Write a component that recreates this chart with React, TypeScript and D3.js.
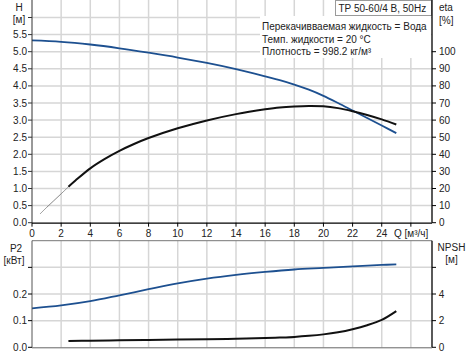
import React from "react";
import * as d3 from "d3";

const qH = [0, 2, 4, 6, 8, 10, 12, 14, 15, 16, 17, 18, 19, 20, 21, 22, 23, 24, 25];
const hVals = [5.33, 5.29, 5.21, 5.1, 4.97, 4.83, 4.67, 4.49, 4.39, 4.28, 4.17, 4.04, 3.89, 3.71, 3.5, 3.28, 3.06, 2.84, 2.62];

const qEtaThin = [0.55, 1, 1.5, 2, 2.5];
const etaThin = [5.1, 8.9, 12.9, 16.9, 21.0];
const qEta = [2.5, 3, 4, 5, 6, 7, 8, 10, 12, 14, 16, 17, 18, 19, 20, 21, 22, 23, 24, 25];
const etaVals = [21.0, 24.8, 31.8, 37.3, 42.0, 46.0, 49.5, 55.2, 59.8, 63.5, 66.3, 67.4, 68.0, 68.3, 68.1, 67.0, 65.2, 63.0, 60.4, 57.4];

const qP2 = [0, 2, 4, 6, 8, 10, 12, 14, 16, 18, 20, 22, 24, 25];
const p2Vals = [0.146, 0.157, 0.173, 0.195, 0.218, 0.240, 0.258, 0.272, 0.283, 0.292, 0.298, 0.304, 0.309, 0.311];

const qNpsh = [2.5, 4, 6, 8, 10, 12, 14, 16, 17, 18, 19, 20, 21, 22, 23, 24, 25];
const npshVals = [0.48, 0.5, 0.52, 0.55, 0.58, 0.61, 0.64, 0.69, 0.73, 0.78, 0.86, 0.97, 1.13, 1.36, 1.66, 2.06, 2.72];

const qTicks = [0, 2, 4, 6, 8, 10, 12, 14, 16, 18, 20, 22, 24];
const qGrid = [2, 4, 6, 8, 10, 12, 14, 16, 18, 20, 22, 24, 26];
const hTicks = ["0.0", "0.5", "1.0", "1.5", "2.0", "2.5", "3.0", "3.5", "4.0", "4.5", "5.0", "5.5"];
const hGrid = [0.5, 1, 1.5, 2, 2.5, 3, 3.5, 4, 4.5, 5, 5.5, 6];
const etaTicks = [0, 10, 20, 30, 40, 50, 60, 70, 80, 90, 100];
const p2Ticks = [0, 0.1, 0.2, 0.3];
const p2Labels = ["0.0", "0.1", "0.2", ""];
const npshTicks = [0, 2, 4, 6];
const npshLabels = ["0", "2", "4", ""];

const legendLines = [
  "Перекачивваемая жидкость = Вода",
  "Темп. жидкости = 20 °C",
  "Плотность = 998.2 кг/м³",
];
const titleText = "TP 50-60/4 B, 50Hz";

const FONT = "'Liberation Sans', Arial, sans-serif";
const BLUE = "#1d5090";
const GRID = "#d6d6d6";
const TXT = "#222";

export default function App() {
  const x = d3.scaleLinear().domain([0, 27.45]).range([32, 432]);
  const yH = d3.scaleLinear().domain([0, 6.5]).range([222.7, 0.4]);
  const yEta = d3.scaleLinear().domain([0, 130]).range([222.7, 0.4]);
  const yP2 = d3.scaleLinear().domain([0, 0.4]).range([347.3, 240.7]);
  const yN = d3.scaleLinear().domain([0, 8]).range([347.3, 240.7]);

  const mk = (qs: number[], vs: number[], ys: d3.ScaleLinear<number, number>) =>
    d3
      .line<number>()
      .x((_, i) => x(qs[i]))
      .y((v) => ys(v))
      .curve(d3.curveCatmullRom.alpha(0.5))(vs) as string;

  const xL = x(0);
  const xR = x(27.45);

  return (
    <svg
      width={472}
      height={356}
      style={{ position: "absolute", left: 0, top: 0, background: "#fff" }}
      fontFamily={FONT}
      fontSize={10}
    >
      <rect x={0} y={0} width={472} height={356} fill="#fff" />
      {/* top grid */}
      <g stroke={GRID} strokeWidth={1.5}>
        {qGrid.map((q) => (
          <line key={"vg" + q} x1={x(q)} x2={x(q)} y1={0} y2={yH(0)} />
        ))}
        {hGrid.map((h) => (
          <line key={"hg" + h} x1={xL} x2={xR} y1={yH(h)} y2={yH(h)} />
        ))}
      </g>
      {/* legend white box */}
      <rect x={260} y={16} width={171} height={42} fill="#fff" />
      {legendLines.map((t, i) => (
        <text key={t} x={262} y={30 + i * 12.5} fill={TXT}>
          {t}
        </text>
      ))}
      {/* title box */}
      <rect x={335.5} y={0.5} width={96} height={15} fill="#fff" stroke="#9a9a9a" />
      <text x={338.5} y={11.5} fill={TXT}>
        {titleText}
      </text>

      {/* top curves */}
      <path d={mk(qH, hVals, yH)} fill="none" stroke={BLUE} strokeWidth={1.8} />
      <path d={mk(qEtaThin, etaThin, yEta)} fill="none" stroke="#888" strokeWidth={1} />
      <path d={mk(qEta, etaVals, yEta)} fill="none" stroke="#111" strokeWidth={2} />

      {/* top axes */}
      <g stroke="#333" strokeWidth={1}>
        <line x1={xL} x2={xL} y1={0} y2={yH(0)} />
        <line x1={xL} x2={xR} y1={yH(0) + 0.5} y2={yH(0) + 0.5} stroke="#000" strokeWidth={1.3} />
        <line x1={xR} x2={xR} y1={0} y2={yH(0)} stroke="#000" strokeWidth={1.3} />
        {hTicks.map((t, i) => (
          <line key={"ht" + i} x1={xL - 4} x2={xL} y1={yH(i * 0.5)} y2={yH(i * 0.5)} />
        ))}
        {[6].map((h) => (
          <line key="h6" x1={xL - 4} x2={xL} y1={yH(h)} y2={yH(h)} />
        ))}
        {qTicks.concat([26]).map((q) => (
          <line key={"qt" + q} x1={x(q)} x2={x(q)} y1={yH(0)} y2={yH(0) + 4} stroke="#000" />
        ))}
        {etaTicks.map((e) => (
          <line key={"et" + e} x1={xR} x2={xR + 4} y1={yEta(e)} y2={yEta(e)} stroke="#000" />
        ))}
      </g>
      <g fill={TXT}>
        {hTicks.map((t, i) => (
          <text key={"hl" + i} x={27} y={yH(i * 0.5)} dy="0.35em" textAnchor="end">
            {t}
          </text>
        ))}
        <text x={19} y={10.5} textAnchor="middle">H</text>
        <text x={19} y={23} textAnchor="middle">[м]</text>
        {qTicks.map((q) => (
          <text key={"ql" + q} x={x(q)} y={236.5} textAnchor="middle">
            {q}
          </text>
        ))}
        <text x={394} y={236.5}>Q [м³/ч]</text>
        {etaTicks.map((e) => (
          <text key={"el" + e} x={439} y={yEta(e)} dy="0.35em">
            {e}
          </text>
        ))}
        <text x={439} y={11}>eta</text>
        <text x={439} y={23.5}>[%]</text>
      </g>

      {/* bottom grid */}
      <g stroke={GRID} strokeWidth={1.5}>
        {qGrid.map((q) => (
          <line key={"bvg" + q} x1={x(q)} x2={x(q)} y1={yP2(0.4)} y2={yP2(0)} />
        ))}
        {[0.1, 0.2, 0.3].map((p) => (
          <line key={"bhg" + p} x1={xL} x2={xR} y1={yP2(p)} y2={yP2(p)} />
        ))}
      </g>
      <path d={mk(qP2, p2Vals, yP2)} fill="none" stroke={BLUE} strokeWidth={1.8} />
      <path d={mk(qNpsh, npshVals, yN)} fill="none" stroke="#111" strokeWidth={2} />
      <g stroke="#555" strokeWidth={1}>
        <line x1={xL} x2={xR} y1={yP2(0.4)} y2={yP2(0.4)} stroke="#777" />
        <line x1={xL} x2={xL} y1={yP2(0.4)} y2={yP2(0)} />
        <line x1={xL} x2={xR} y1={yP2(0) + 0.5} y2={yP2(0) + 0.5} stroke="#666" />
        <line x1={xR} x2={xR} y1={yP2(0.4)} y2={yP2(0)} stroke="#000" strokeWidth={1.3} />
        {p2Ticks.map((p) => (
          <line key={"pt" + p} x1={xL - 4} x2={xL} y1={yP2(p)} y2={yP2(p)} stroke="#000" />
        ))}
        {npshTicks.map((n) => (
          <line key={"nt" + n} x1={xR} x2={xR + 4} y1={yN(n)} y2={yN(n)} stroke="#000" />
        ))}
      </g>
      <g fill={TXT}>
        {p2Ticks.map((p, i) => (
          <text key={"pl" + p} x={27} y={yP2(p)} dy="0.35em" textAnchor="end">
            {p2Labels[i]}
          </text>
        ))}
        <text x={16} y={252} textAnchor="middle">P2</text>
        <text x={14} y={264} textAnchor="middle">[кВт]</text>
        {npshTicks.map((n, i) => (
          <text key={"nl" + n} x={441.5} y={yN(n)} dy="0.35em" textAnchor="middle">
            {npshLabels[i]}
          </text>
        ))}
        <text x={451.5} y={251} textAnchor="middle">NPSH</text>
        <text x={451.5} y={263} textAnchor="middle">[м]</text>
      </g>
    </svg>
  );
}
